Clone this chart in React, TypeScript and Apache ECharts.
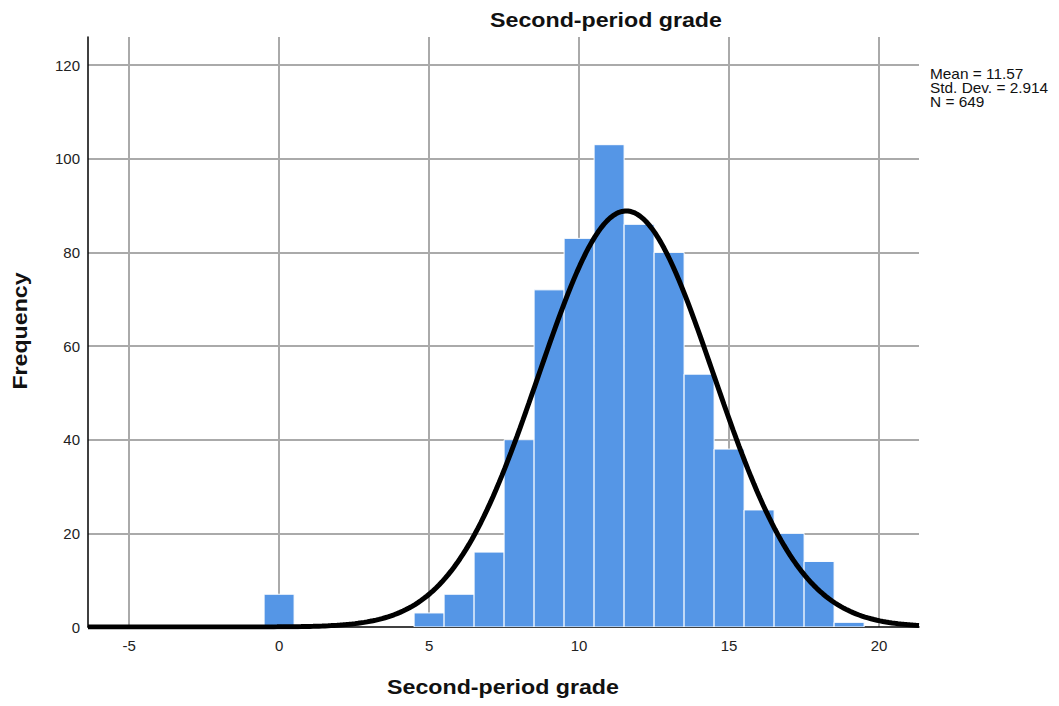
import React, { useEffect, useRef } from "react";
import * as echarts from "echarts";

const binCenters = [0, 5, 6, 7, 8, 9, 10, 11, 12, 13, 14, 15, 16, 17, 18, 19];
const frequencies = [7, 3, 7, 16, 40, 72, 83, 103, 86, 80, 54, 38, 25, 20, 14, 1];
const statsMean = 11.57;
const statsSd = 2.914;
const statsN = 649;
const binWidth = 1;
const statsLines = ["Mean = 11.57", "Std. Dev. = 2.914", "N = 649"];
const chartTitle = "Second-period grade";
const xAxisTitle = "Second-period grade";
const yAxisTitle = "Frequency";
const xMin = -6.37;
const xMax = 21.33;
const yMax = 126;

const FONT = "'Liberation Sans', Arial, sans-serif";

export default function App() {
  const ref = useRef<HTMLDivElement>(null);
  useEffect(() => {
    if (!ref.current) return;
    const chart = echarts.init(ref.current, undefined, { renderer: "svg" });
    const curve: number[][] = [];
    for (let i = 0; i <= 277; i++) {
      const x = xMin + i * 0.1;
      const z = (x - statsMean) / statsSd;
      const y = ((statsN * binWidth) / (statsSd * Math.sqrt(2 * Math.PI))) * Math.exp(-0.5 * z * z);
      curve.push([x, y]);
    }
    const barData = binCenters.map((c, i) => [c, frequencies[i]]);
    chart.setOption({
      animation: false,
      textStyle: { fontFamily: FONT },
      grid: { left: 88, right: 140, top: 37, bottom: 79, containLabel: false, outerBoundsMode: "none" },
      xAxis: {
        type: "value",
        min: xMin,
        max: xMax,
        splitNumber: 5,
        axisLine: { show: true, onZero: false, lineStyle: { color: "#000", width: 1.5 } },
        axisTick: { show: false },
        axisLabel: {
          color: "#222",
          fontSize: 15,
          margin: 11,
          showMinLabel: false,
          showMaxLabel: false,
          formatter: (v: number) => (Math.abs(v % 5) < 1e-9 ? String(v) : ""),
        },
        splitLine: { show: true, showMinLine: false, showMaxLine: false, lineStyle: { color: "#aaaaaa", width: 2 } },
      },
      yAxis: {
        type: "value",
        min: 0,
        max: yMax,
        interval: 20,
        axisLine: { show: true, onZero: false, lineStyle: { color: "#000", width: 1.5 } },
        axisTick: { show: false },
        axisLabel: {
          color: "#222",
          fontSize: 15,
          margin: 8,
          showMaxLabel: false,
          formatter: (v: number) => (v % 20 === 0 ? String(v) : ""),
        },
        splitLine: { show: true, showMinLine: false, showMaxLine: false, lineStyle: { color: "#aaaaaa", width: 2 } },
      },
      series: [
        {
          type: "custom",
          data: barData,
          encode: { x: 0, y: 1 },
          clip: true,
          renderItem: (params: any, api: any) => {
            const c = api.value(0);
            const v = api.value(1);
            const p0 = api.coord([c - binWidth / 2, 0]);
            const p1 = api.coord([c + binWidth / 2, v]);
            return {
              type: "rect",
              shape: { x: p0[0], y: p1[1], width: p1[0] - p0[0], height: p0[1] - p1[1] },
              style: { fill: "#5596e6", stroke: "#ffffff", lineWidth: 1 },
            };
          },
          z: 2,
        },
        {
          type: "line",
          data: curve,
          showSymbol: false,
          symbol: "none",
          clip: true,
          lineStyle: { color: "#000", width: 5 },
          z: 3,
        },
      ],
      graphic: [
        {
          type: "text",
          x: 606,
          y: 30,
          scaleX: 1.16,
          style: {
            text: chartTitle,
            font: `bold 20px ${FONT}`,
            fill: "#111",
            align: "center",
            verticalAlign: "bottom",
          },
        },
        {
          type: "text",
          x: 503,
          y: 697,
          scaleX: 1.16,
          style: {
            text: xAxisTitle,
            font: `bold 20px ${FONT}`,
            fill: "#111",
            align: "center",
            verticalAlign: "bottom",
          },
        },
        {
          type: "text",
          x: 20,
          y: 331,
          rotation: Math.PI / 2,
          scaleX: 1.16,
          style: {
            text: yAxisTitle,
            font: `bold 20px ${FONT}`,
            fill: "#111",
            align: "center",
            verticalAlign: "middle",
          },
        },
        ...statsLines.map((t, i) => ({
          type: "text",
          x: 930,
          y: 81 + i * 14,
          scaleX: 1.1,
          style: { text: t, font: `14px ${FONT}`, fill: "#111", verticalAlign: "bottom" },
        })),
      ],
    });
    return () => chart.dispose();
  }, []);
  return <div ref={ref} style={{ width: 1059, height: 706, position: "absolute", left: 0, top: 0 }} />;
}
